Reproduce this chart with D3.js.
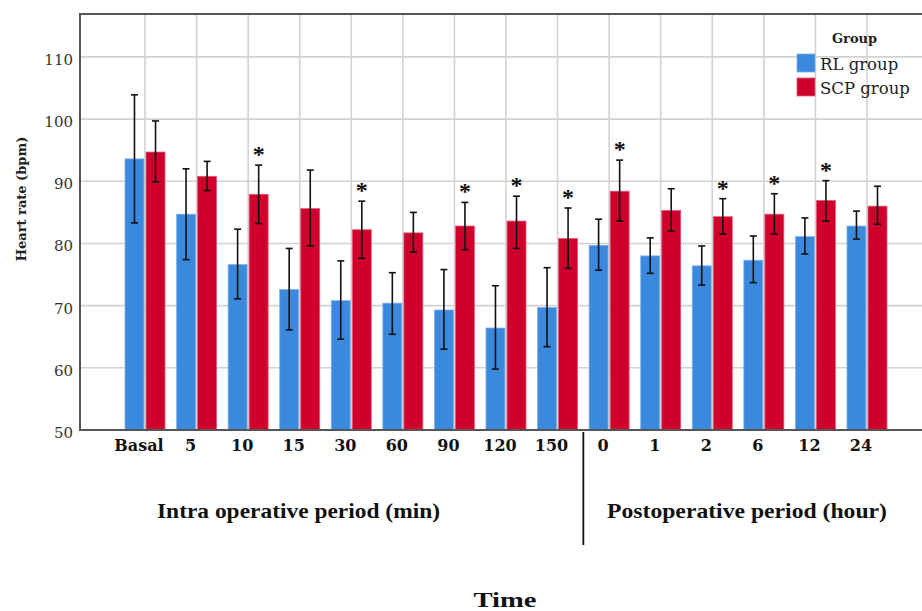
<!DOCTYPE html>
<html>
<head>
<meta charset="utf-8">
<script src="https://cdn.jsdelivr.net/npm/d3@7"></script>
<style>
  html, body { margin: 0; padding: 0; background: #fff; }
  svg { display: block; }
</style>
</head>
<body>
<svg id="chart" width="922" height="611"></svg>
<script>
// ---- Data ----
const categories = ["Basal","5","10","15","30","60","90","120","150","0","1","2","6","12","24"];
const groups = ["RL group", "SCP group"];
const rlMean  = [93.6, 84.7, 76.6, 72.6, 70.8, 70.4, 69.3, 66.4, 69.7, 79.7, 78.0, 76.4, 77.3, 81.1, 82.8];
const rlLow   = [83.3, 77.4, 71.1, 66.1, 64.6, 65.4, 63.0, 59.8, 63.4, 75.7, 75.2, 73.3, 73.7, 78.3, 80.7];
const rlHigh  = [103.9, 92.0, 82.3, 79.2, 77.2, 75.3, 75.8, 73.2, 76.1, 83.9, 80.9, 79.6, 81.2, 84.1, 85.2];
const scpMean = [94.7, 90.8, 87.9, 85.6, 82.2, 81.7, 82.8, 83.6, 80.8, 88.4, 85.3, 84.3, 84.7, 86.9, 86.0];
const scpLow  = [89.9, 88.5, 83.2, 79.6, 77.6, 78.6, 79.0, 79.2, 76.0, 83.6, 82.0, 81.5, 81.5, 83.6, 83.1];
const scpHigh = [99.7, 93.2, 92.6, 91.8, 86.8, 85.0, 86.6, 87.6, 85.7, 93.4, 88.8, 87.2, 88.0, 90.1, 89.2];
const significant = [false,false,true,false,true,false,true,true,true,true,false,true,true,true,false];
const yTicks = [50, 60, 70, 80, 90, 100, 110];
const periodLabels = ["Intra operative period (min)", "Postoperative period (hour)"];
const yTitle = "Heart rate (bpm)";
const xTitle = "Time";
const legendTitle = "Group";

// ---- Layout ----
const colors = { "RL group": "#3a89dd", "SCP group": "#cf002b" };
const strokes = { "RL group": "#7fb2ea", "SCP group": "#e5587a" };
const plot = { left: 80, top: 14, right: 926, bottom: 430 };
const step = 51.57;
const firstCenter = 145;

const svg = d3.select("#chart");

const x = d3.scaleBand()
  .domain(categories)
  .range([firstCenter - step / 2, firstCenter + step * (categories.length - 0.5)])
  .padding(0);
const xc = c => x(c) + x.bandwidth() / 2;
const x1 = d3.scaleBand().domain(groups).range([-20, 20]).paddingInner(0.1);
const y = d3.scaleLinear().domain([50, 116.9]).range([plot.bottom, plot.top]);

const rows = categories.map((c, i) => ({
  cat: c, i,
  vals: [
    { g: "RL group", mean: rlMean[i], lo: rlLow[i], hi: rlHigh[i] },
    { g: "SCP group", mean: scpMean[i], lo: scpLow[i], hi: scpHigh[i] }
  ],
  sig: significant[i]
}));

// Gridlines
const grid = svg.append("g");
grid.selectAll("line.h").data(yTicks.filter(t => t > 50)).join("line")
  .attr("x1", plot.left).attr("x2", plot.right)
  .attr("y1", d => y(d)).attr("y2", d => y(d))
  .attr("stroke", "#d2d2d2").attr("stroke-width", 1.6);
grid.selectAll("line.v").data(categories).join("line")
  .attr("x1", d => xc(d)).attr("x2", d => xc(d))
  .attr("y1", plot.top).attr("y2", plot.bottom)
  .attr("stroke", "#d2d2d2").attr("stroke-width", 1.6);

// Bars
const gBars = svg.append("g");
const cat = gBars.selectAll("g.cat").data(rows).join("g")
  .attr("transform", d => `translate(${xc(d.cat)},0)`);
cat.selectAll("rect").data(d => d.vals).join("rect")
  .attr("x", d => x1(d.g))
  .attr("width", x1.bandwidth())
  .attr("y", d => y(d.mean))
  .attr("height", d => y(50) - y(d.mean))
  .attr("fill", d => colors[d.g])
  .attr("stroke", d => strokes[d.g])
  .attr("stroke-width", 0.8);

// Error bars
const eb = cat.selectAll("g.eb").data(d => d.vals).join("g")
  .attr("transform", d => `translate(${x1(d.g) + x1.bandwidth() / 2},0)`)
  .attr("stroke", "#111").attr("stroke-width", 1.6);
eb.append("line").attr("x1", 0).attr("x2", 0)
  .attr("y1", d => y(d.lo)).attr("y2", d => y(d.hi));
eb.append("line").attr("x1", -3.5).attr("x2", 3.5)
  .attr("y1", d => y(d.lo)).attr("y2", d => y(d.lo));
eb.append("line").attr("x1", -3.5).attr("x2", 3.5)
  .attr("y1", d => y(d.hi)).attr("y2", d => y(d.hi));

// Significance stars over SCP bars
svg.append("g").selectAll("text").data(rows.filter(d => d.sig)).join("text")
  .attr("x", d => xc(d.cat) + x1("SCP group") + x1.bandwidth() / 2)
  .attr("y", d => y(d.vals[1].hi) - 14 + 11)
  .attr("text-anchor", "middle")
  .attr("font-family", "Liberation Serif, serif")
  .attr("font-weight", "bold")
  .attr("font-size", 24)
  .attr("fill", "#111")
  .text("*");

// Frame
svg.append("path")
  .attr("d", `M${plot.right},${plot.top}H${plot.left}V${plot.bottom}H${plot.right}`)
  .attr("fill", "none").attr("stroke", "#555").attr("stroke-width", 2);

// Y axis labels
const yAxis = d3.axisLeft(y).tickValues(yTicks).tickSize(0).tickPadding(7);
const gy = svg.append("g").attr("transform", `translate(${plot.left},0)`).call(yAxis);
gy.select(".domain").remove();
gy.selectAll("text")
  .attr("font-family", "DejaVu Serif, serif")
  .attr("font-size", 15)
  .attr("fill", "#333")
  .attr("dy", "0.5em");

// X axis labels
const xAxis = d3.axisBottom(x).tickSize(0).tickPadding(0);
const gx = svg.append("g").attr("transform", `translate(-6,${plot.bottom})`).call(xAxis);
gx.select(".domain").remove();
gx.selectAll("text")
  .attr("font-family", "DejaVu Serif, serif")
  .attr("font-weight", "bold")
  .attr("font-size", 16)
  .attr("fill", "#111")
  .attr("dy", null)
  .attr("y", 21);

// Y title
svg.append("text")
  .attr("transform", "translate(26,199) rotate(-90)")
  .attr("text-anchor", "middle")
  .attr("font-family", "DejaVu Serif, serif")
  .attr("font-weight", "bold")
  .attr("font-size", 13)
  .attr("fill", "#222")
  .text(yTitle);

// Divider between periods
const divX = (xc("150") + xc("0")) / 2;
svg.append("line")
  .attr("x1", divX).attr("x2", divX)
  .attr("y1", plot.bottom + 2).attr("y2", 545)
  .attr("stroke", "#111").attr("stroke-width", 1.8);

// Period labels
const periodPos = [298.5, 747];
const periodLen = [283, 280];
svg.append("g").selectAll("text").data(periodLabels).join("text")
  .attr("x", (d, i) => periodPos[i])
  .attr("y", 518)
  .attr("text-anchor", "middle")
  .attr("font-family", "Liberation Serif, serif")
  .attr("font-weight", "bold")
  .attr("font-size", 22)
  .attr("textLength", (d, i) => periodLen[i])
  .attr("lengthAdjust", "spacingAndGlyphs")
  .attr("fill", "#111")
  .text(d => d);

// X title
svg.append("text")
  .attr("x", 505).attr("y", 607)
  .attr("text-anchor", "middle")
  .attr("font-family", "Liberation Serif, serif")
  .attr("font-weight", "bold")
  .attr("font-size", 22)
  .attr("textLength", 63)
  .attr("lengthAdjust", "spacingAndGlyphs")
  .attr("fill", "#111")
  .text(xTitle);

// Legend
const lg = svg.append("g");
lg.append("text")
  .attr("x", 832).attr("y", 43)
  .attr("font-family", "DejaVu Serif, serif")
  .attr("font-weight", "bold")
  .attr("font-size", 13)
  .attr("fill", "#222")
  .text(legendTitle);
const li = lg.selectAll("g.item").data(groups).join("g")
  .attr("transform", (d, i) => `translate(797,${54 + i * 24})`);
li.append("rect").attr("width", 18).attr("height", 18)
  .attr("fill", d => colors[d]).attr("stroke", d => strokes[d]).attr("stroke-width", 0.8);
li.append("text")
  .attr("x", 23).attr("y", 16)
  .attr("font-family", "DejaVu Serif, serif")
  .attr("font-size", 16.5)
  .attr("fill", "#222")
  .text(d => d);
</script>
</body>
</html>
